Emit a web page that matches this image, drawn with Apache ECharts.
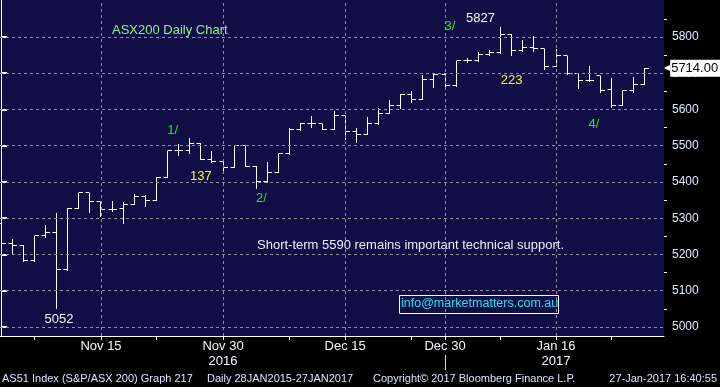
<!DOCTYPE html>
<html><head><meta charset="utf-8">
<script src="https://cdn.jsdelivr.net/npm/echarts@6/dist/echarts.min.js"></script>
<style>html,body{margin:0;padding:0;background:#000;}#c{width:720px;height:387px;}</style>
</head><body><div id="c"></div>
<script>
// ---- data (ASX200 daily OHLC, 2 Nov 2016 - 27 Jan 2017) ----
const dates = ['2016-11-02','2016-11-03','2016-11-04','2016-11-07','2016-11-08','2016-11-09','2016-11-10','2016-11-11','2016-11-14','2016-11-15',
  '2016-11-16','2016-11-17','2016-11-18','2016-11-21','2016-11-22','2016-11-23','2016-11-24','2016-11-25','2016-11-28','2016-11-29',
  '2016-11-30','2016-12-01','2016-12-02','2016-12-05','2016-12-06','2016-12-07','2016-12-08','2016-12-09','2016-12-12','2016-12-13',
  '2016-12-14','2016-12-15','2016-12-16','2016-12-19','2016-12-20','2016-12-21','2016-12-22','2016-12-23','2016-12-28','2016-12-29',
  '2016-12-30','2017-01-03','2017-01-04','2017-01-05','2017-01-06','2017-01-09','2017-01-10','2017-01-11','2017-01-12','2017-01-13',
  '2017-01-16','2017-01-17','2017-01-18','2017-01-19','2017-01-20','2017-01-23','2017-01-24','2017-01-25','2017-01-27'];
const opens  = [5285,5230,5226,5182,5252,5260,5158,5328,5370,5345, 5325,5328,5339,5360,5350,5413,5486,5486,5507,5463,
  5457,5441,5500,5443,5400,5427,5478,5544,5561,5561, 5545,5583,5538,5531,5561,5589,5612,5642,5628,5683,
  5697,5666,5734,5735,5753,5756,5807,5762,5772,5767, 5719,5748,5700,5679,5693,5654,5611,5651,5670];
const highs  = [5291,5242,5226,5252,5282,5315,5328,5370,5370,5345, 5348,5345,5367,5365,5415,5486,5505,5522,5507,5486,
  5457,5500,5500,5443,5454,5478,5550,5563,5582,5561, 5595,5583,5548,5578,5605,5627,5644,5650,5694,5697,
  5697,5735,5742,5758,5765,5827,5807,5793,5802,5767, 5767,5748,5700,5720,5693,5686,5651,5689,5714];
const lows   = [5208,5202,5182,5182,5248,5052,5158,5328,5316,5305, 5321,5288,5339,5335,5350,5413,5475,5481,5463,5454,
  5424,5441,5443,5384,5400,5427,5478,5544,5552,5545, 5545,5519,5511,5531,5561,5589,5605,5621,5628,5661,
  5665,5666,5730,5735,5750,5756,5749,5760,5760,5712, 5719,5698,5658,5679,5649,5607,5611,5649,5670];
const closes = [5230,5226,5182,5252,5260,5158,5328,5370,5345,5325, 5325,5339,5360,5350,5413,5486,5486,5507,5463,5457,
  5441,5500,5443,5400,5427,5478,5544,5561,5561,5545, 5583,5538,5531,5561,5589,5612,5642,5628,5683,5697,
  5665,5735,5735,5753,5756,5807,5762,5772,5767,5719, 5748,5700,5679,5679,5652,5611,5651,5670,5714];

// x axis: labelled trading-day indices and extra tick indices
const xLabelIdx = [9, 20, 31, 40, 50];
const xLabels = ['Nov 15', 'Nov 30\n2016', 'Dec 15', 'Dec 30', 'Jan 16\n2017'];
const xTickIdx = [3, 9, 14, 20, 26, 31, 37, 40, 45, 50, 55];
// y axis ticks
const yTicks = [5000, 5100, 5200, 5300, 5400, 5500, 5600, 5700, 5800];
const yMinor = [5050, 5150, 5250, 5350, 5450, 5550, 5650, 5750, 5850];

// annotations [x index, value, text, colour-key]
const notes = [
  [5.22, 5022, '5052', 'w'],
  [43.2, 5850, '5827', 'w'],
  [40.45, 5828, '3/', 'g'],
  [46.0, 5679, '223', 'y'],
  [15.45, 5541, '1/', 'g'],
  [17.99, 5414, '137', 'y'],
  [23.45, 5355, '2/', 'g'],
  [53.42, 5558, '4/', 'g']
];
const noteColors = { w: '#f4f6ff', g: '#22e622', y: '#f8f822' };

const F = '"Liberation Sans", Arial, sans-serif';
const ohlc = dates.map((d, i) => [i, opens[i], highs[i], lows[i], closes[i]]);
const lastClose = closes[closes.length - 1];

const chart = echarts.init(document.getElementById('c'), null, { renderer: 'canvas' });

function crisp(v) { return Math.round(v - 0.5) + 0.5; }

const option = {
  backgroundColor: '#000',
  animation: false,
  grid: { left: 0, top: 0, right: 56, bottom: 51, show: true, backgroundColor: '#100e44', borderWidth: 0 },
  xAxis: [{
    type: 'value', min: -0.1, max: 59.73, position: 'bottom',
    axisLine: { show: true, onZero: false, lineStyle: { color: '#ffffff', width: 1 } },
    axisTick: { show: true, customValues: xTickIdx, length: 4, lineStyle: { color: '#ffffff' } },
    axisLabel: {
      show: true, customValues: xLabelIdx,
      formatter: v => xLabels[xLabelIdx.indexOf(Math.round(v))] || '',
      color: '#f4f6ff', fontFamily: F, fontSize: 13, lineHeight: 15, margin: 3
    },
    splitLine: { show: false }
  }],
  yAxis: [{
    type: 'value', position: 'right', min: 4975, max: 5902,
    axisLine: { show: true, lineStyle: { color: '#ffffff', width: 1 } },
    axisTick: { show: true, customValues: yTicks, length: 6, lineStyle: { color: '#ffffff', width: 2 } },
    axisLabel: { show: true, customValues: yTicks, formatter: v => String(Math.round(v)),
      color: '#dfe8ff', fontFamily: F, fontSize: 12, margin: 8 },
    splitLine: { show: false }
  }, {
    type: 'value', position: 'right', min: 4975, max: 5902,
    axisLine: { show: false },
    axisTick: { show: true, customValues: yMinor, length: 3, lineStyle: { color: '#ffffff', width: 1 } },
    axisLabel: { show: false },
    splitLine: { show: false }
  }],
  series: [{
    name: 'grid', type: 'line', z: 1, data: [], silent: true,
    markLine: {
      silent: true, symbol: ['none', 'none'], label: { show: false },
      lineStyle: { color: '#8e8ea0', type: [3, 3], width: 1 },
      data: yTicks.map(v => ({ yAxis: v })).concat(xLabelIdx.map(v => ({ xAxis: v })))
    }
  }, {
    name: 'AS51', type: 'custom', z: 3,
    data: ohlc,
    renderItem: function (params, api) {
      const i = api.value(0);
      const o = api.coord([i, api.value(1)]);
      const h = api.coord([i, api.value(2)]);
      const l = api.coord([i, api.value(3)]);
      const c = api.coord([i, api.value(4)]);
      const x = crisp(o[0]);
      const st = { stroke: '#ffffff', lineWidth: 1 };
      const w = 4;
      return { type: 'group', children: [
        { type: 'line', shape: { x1: x, y1: Math.round(h[1]), x2: x, y2: Math.round(l[1]) + 1 }, style: st },
        { type: 'line', shape: { x1: x - w, y1: crisp(o[1]), x2: x, y2: crisp(o[1]) }, style: st },
        { type: 'line', shape: { x1: x, y1: crisp(c[1]), x2: x + w + 0.5, y2: crisp(c[1]) }, style: st }
      ] };
    }
  }, {
    name: 'last', type: 'line', z: 5, data: [], silent: true,
    markLine: {
      silent: true, symbol: ['none', 'none'],
      lineStyle: { color: 'rgba(0,0,0,0)', width: 0 },
      data: [{ yAxis: lastClose }],
      label: {
        show: true, position: 'end', distance: 0,
        formatter: () => '{a|◀}{b|' + lastClose.toFixed(2) + '}',
        rich: {
          a: { color: '#ffffff', fontSize: 8, fontFamily: '"DejaVu Sans", sans-serif' },
          b: { color: '#000000', backgroundColor: '#ffffff', fontSize: 13, fontFamily: F, padding: [2, 2, 2, 1] }
        }
      }
    }
  }],
  graphic: []
};
chart.setOption(option);

const noteGraphics = notes.map(n => {
  const p = chart.convertToPixel({ xAxisIndex: 0, yAxisIndex: 0 }, [n[0], n[1]]);
  return { type: 'text', x: p[0], y: p[1], z: 10,
    style: { text: n[2], fill: noteColors[n[3]], font: '13px ' + F, align: 'center', verticalAlign: 'middle' } };
});
const sepX = Math.round(chart.convertToPixel({ xAxisIndex: 0 }, xLabelIdx[3])) + 0.5;
const footStyle = { fill: '#d8e2ff', font: '11px ' + F, textVerticalAlign: 'middle' };
chart.setOption({ graphic: noteGraphics.concat([
  { type: 'text', left: 112, top: 24, style: { text: 'ASX200 Daily Chart', fill: '#90f290', font: '13px ' + F } },
  { type: 'text', left: 257, top: 239, style: { text: 'Short-term 5590 remains important technical support.', fill: '#ececff', font: '13px ' + F } },
  { type: 'rect', shape: { x: 399.5, y: 295.5, width: 159, height: 18 }, style: { fill: 'none', stroke: '#ffffff', lineWidth: 1 } },
  { type: 'text', left: 401, top: 297, style: { text: 'info@marketmatters.com.au', fill: '#1ee2f0', font: '12.5px ' + F } },
  { type: 'line', shape: { x1: sepX, y1: 355, x2: sepX, y2: 370 }, style: { stroke: '#cfd6ee', lineWidth: 1 } },
  { type: 'text', left: 2, top: 373, style: Object.assign({ text: 'AS51 Index (S&P/ASX 200) Graph 217' }, footStyle) },
  { type: 'text', left: 207, top: 373, style: Object.assign({ text: 'Daily 28JAN2015-27JAN2017' }, footStyle) },
  { type: 'text', left: 373, top: 373, style: Object.assign({ text: 'Copyright© 2017 Bloomberg Finance L.P.' }, footStyle) },
  { type: 'text', right: 3, top: 373, style: Object.assign({ text: '27-Jan-2017 16:40:55' }, footStyle) }
]) });
</script>
</body></html>
